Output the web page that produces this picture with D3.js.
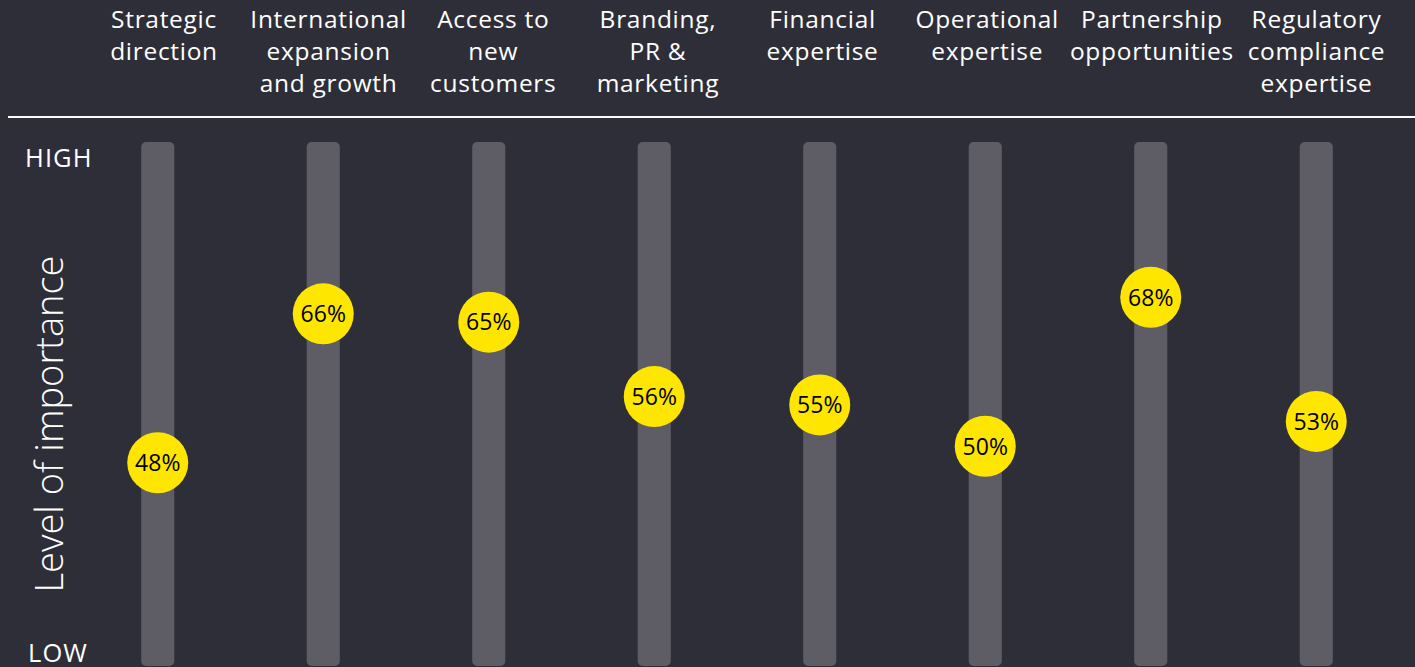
<!DOCTYPE html>
<html>
<head>
<meta charset="utf-8">
<script src="https://cdn.jsdelivr.net/npm/d3@7"></script>
<style>
  html, body { margin: 0; padding: 0; background: #2e2e38; }
  svg { display: block; }
</style>
</head>
<body>
<svg id="chart" width="1415" height="667"></svg>
<script>
// Areas where support matters, with share of respondents rating each important
const categories = [
  ["Strategic", "direction"],
  ["International", "expansion", "and growth"],
  ["Access to", "new", "customers"],
  ["Branding,", "PR &", "marketing"],
  ["Financial", "expertise"],
  ["Operational", "expertise"],
  ["Partnership", "opportunities"],
  ["Regulatory", "compliance", "expertise"]
];
const values = [48, 66, 65, 56, 55, 50, 68, 53];
const scaleLabels = ["HIGH", "LOW"];
const axisTitle = "Level of importance";

const W = 1415, H = 667;
const svg = d3.select("#chart");
const font = "'Open Sans', 'DejaVu Sans', sans-serif";

svg.append("rect").attr("width", W).attr("height", H).attr("fill", "#2e2e38");

const x = d3.scaleBand()
  .domain(d3.range(categories.length))
  .range([75, 1399])
  .paddingInner(0.8)
  .paddingOuter(0.4);

// header columns sit on a slightly wider grid than the tracks
const xHead = d3.scalePoint()
  .domain(d3.range(categories.length))
  .range([164, 1316.5]);

const y = d3.scaleLinear().domain([0, 100]).range([860, 32.5]);

// column headers
const head = svg.append("g");
categories.forEach((lines, i) => {
  const cx = xHead(i);
  const t = head.append("text")
    .attr("x", cx)
    .attr("y", 28)
    .attr("text-anchor", "middle")
    .attr("fill", "#ffffff")
    .attr("font-family", font)
    .attr("font-size", 24.5)
    .attr("letter-spacing", 0.7);
  lines.forEach((l, k) => t.append("tspan")
    .attr("x", cx)
    .attr("dy", k === 0 ? 0 : 32)
    .text(l));
});

svg.append("line")
  .attr("x1", 8).attr("x2", W)
  .attr("y1", 117).attr("y2", 117)
  .attr("stroke", "#ffffff").attr("stroke-width", 2);

// HIGH / LOW markers and axis title
svg.append("text").attr("x", 25).attr("y", 167)
  .attr("fill", "#fff").attr("font-family", font).attr("font-size", 25.5)
  .attr("letter-spacing", 1.1)
  .text(scaleLabels[0]);
svg.append("text").attr("x", 28).attr("y", 662)
  .attr("fill", "#fff").attr("font-family", font).attr("font-size", 25.5)
  .attr("letter-spacing", 1.1)
  .text(scaleLabels[1]);
svg.append("text")
  .attr("transform", "translate(63,424) rotate(-90)")
  .attr("text-anchor", "middle")
  .attr("fill", "#fff").attr("font-family", font)
  .attr("font-weight", 300).attr("font-size", 38)
  .text(axisTitle);

// tracks
svg.append("g").selectAll("rect")
  .data(values)
  .join("rect")
  .attr("x", (d, i) => x(i))
  .attr("y", 142)
  .attr("width", x.bandwidth())
  .attr("height", 524)
  .attr("rx", 5)
  .attr("fill", "#5e5d65");

// value dots
const dots = svg.append("g").selectAll("g")
  .data(values)
  .join("g")
  .attr("transform", (d, i) => `translate(${x(i) + x.bandwidth() / 2},${y(d)})`);

dots.append("circle").attr("r", 30.5).attr("fill", "#ffe600");
dots.append("text")
  .attr("text-anchor", "middle")
  .attr("dy", "0.36em")
  .attr("fill", "#000")
  .attr("font-family", font)
  .attr("font-size", 23)
  .text(d => d + "%");
</script>
</body>
</html>
